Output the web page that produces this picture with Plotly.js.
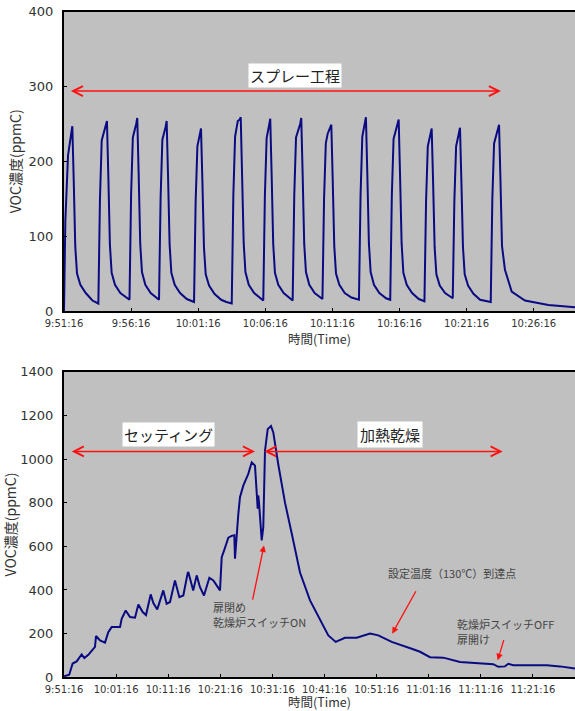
<!DOCTYPE html>
<html>
<head>
<meta charset="utf-8">
<script src="https://cdn.plot.ly/plotly-3.0.1.min.js"></script>
<style>html,body{margin:0;padding:0;background:#fff;}#chart{width:575px;height:711px;}</style>
</head>
<body>
<div id="chart"></div>
<script>
// ---- Top chart: spray process (minutes after 9:51:16) ----
const topTime = [
  0,0.1,0.3,0.45,0.62,0.72,0.84,0.97,1.22,1.62,2.12,
  2.56,2.68,2.81,3.12,3.20,3.30,3.42,3.55,3.80,4.20,4.70,
  4.88,5.00,5.13,5.38,5.46,5.56,5.68,5.81,6.06,6.46,6.96,
  7.08,7.20,7.33,7.57,7.65,7.75,7.87,8.00,8.25,8.65,9.15,
  9.69,9.81,9.94,10.13,10.21,10.31,10.43,10.56,10.81,11.21,11.71,12.1,
  12.50,12.62,12.75,12.95,13.10,13.17,13.27,13.39,13.52,13.77,14.17,14.67,
  14.85,14.97,15.10,15.29,15.37,15.47,15.59,15.72,15.97,16.37,16.87,
  17.04,17.16,17.29,17.60,17.68,17.78,17.90,18.03,18.28,18.68,19.18,
  19.26,19.38,19.51,19.65,19.92,20.02,20.14,20.27,20.52,20.92,21.42,
  21.98,22.10,22.23,22.42,22.50,22.60,22.72,22.85,23.10,23.50,24.00,
  24.31,24.43,24.56,24.86,24.94,25.04,25.16,25.29,25.54,25.94,26.44,
  26.86,26.98,27.11,27.32,27.40,27.50,27.62,27.75,28.00,28.40,28.90,
  28.97,29.09,29.22,29.43,29.51,29.61,29.73,29.86,30.11,30.51,31.01,
  31.80,31.92,32.05,32.34,32.42,32.52,32.64,32.86,33.36,34.35,36.1,38.08
];
const topVOC = [
  0,120,208,228,247,178,86,50,35,24,14,
  10,150,228,246,254,183,89,51,35,24,18,
  15,155,232,250,258,186,90,52,35,24,17,
  15,152,229,246,254,183,89,51,35,24,16,
  12,146,220,237,244,176,85,49,34,23,15,12,
  10,155,233,254,256,259,186,91,52,35,24,16,
  14,154,231,249,257,185,90,51,35,24,16,
  14,155,232,250,258,186,90,52,35,24,17,
  16,150,224,237,249,179,87,50,35,24,18,
  15,155,233,251,259,186,91,52,35,24,17,
  15,154,230,248,256,184,90,51,35,24,16,
  13,146,220,237,244,176,85,49,34,24,18,
  17,147,220,238,245,176,86,49,34,23,15,
  12,150,224,242,249,179,87,55,26,14,8,5
];
const topTickVals = [0,5,10,15,20,25,30,35];
const topTickText = ['9:51:16','9:56:16','10:01:16','10:06:16','10:11:16','10:16:16','10:21:16','10:26:16'];

// ---- Bottom chart: setting + heat drying (minutes after 9:51:16) ----
const botTime = [
  0,0.19,1.0,1.66,2.43,3.39,3.9,4.67,5.63,5.95,6.14,6.91,7.87,8.5,9.15,10.75,11.07,11.84,
  12.67,13.63,14.27,15.1,15.74,16.64,17.15,17.9,19.06,19.7,20.35,21.3,22.14,22.9,23.74,23.86,
  24.8,25.47,26.1,26.87,27.9,28.66,29.94,30.27,30.77,31.23,31.54,32.19,32.69,32.82,33.15,
  33.46,33.78,34.41,35.37,36.03,36.66,36.99,37.18,37.29,37.43,37.95,38.25,38.58,39.10,39.73,
  40.17,41.13,42.42,43.70,44.34,45.30,47.22,49.14,50.73,52.15,53.93,56.18,58.73,60.33,
  62.90,66.74,68.33,70.25,72.80,76.01,79.85,82.40,83.36,84.64,85.28,86.24,90.08,92.65,95.20,98.08
];
const botVOC = [
  5,6,12,63,73,105,88,103,127,139,189,169,159,207,230,230,268,306,
  276,273,334,299,285,380,340,311,398,337,345,444,367,375,477,482,
  398,467,413,375,456,444,398,550,584,614,640,648,651,543,665,
  749,825,878,932,985,970,825,772,833,800,627,688,1038,1137,1151,
  1122,975,800,660,589,480,352,261,192,162,181,181,200,192,
  162,131,117,92,90,70,66,60,48,50,62,55,55,55,50,40
];
const botTickVals = [0,10,20,30,40,50,60,70,80,90];
const botTickText = ['9:51:16','10:01:16','10:11:16','10:21:16','10:31:16','10:41:16','10:51:16','11:01:16','11:11:16','11:21:16'];

const lineColor = '#0a0a82';
const red = '#ff1010';
const jp = '"Noto Sans CJK JP", "Noto Sans", sans-serif';
const num = '"DejaVu Sans", sans-serif';

const traces = [
  {x: topTime, y: topVOC, type: 'scatter', mode: 'lines', xaxis: 'x', yaxis: 'y',
   line: {color: lineColor, width: 2}, hoverinfo: 'skip'},
  {x: botTime, y: botVOC, type: 'scatter', mode: 'lines', xaxis: 'x2', yaxis: 'y2',
   line: {color: lineColor, width: 2}, hoverinfo: 'skip'}
];

function xAx(range, vals, text, anchor) {
  return {
    range: range, domain: [0, 1], anchor: anchor,
    tickmode: 'array', tickvals: vals, ticktext: text,
    ticks: 'inside', ticklen: 3, tickcolor: '#000', tickwidth: 1,
    showline: true, linecolor: '#000', linewidth: 2, mirror: true,
    showgrid: false, zeroline: false,
    tickfont: {family: num, size: 10, color: '#333'},
    ticklabelstandoff: 2,
    title: {text: '時間(Time)', font: {family: jp, size: 12.5, color: '#333'}, standoff: 5}
  };
}
function yAx(range, dtick, domain, anchor) {
  return {
    range: range, domain: domain, anchor: anchor, dtick: dtick, tick0: 0,
    ticks: 'inside', ticklen: 3, tickcolor: '#000', tickwidth: 1,
    showline: true, linecolor: '#000', linewidth: 2, mirror: false,
    showgrid: false, zeroline: false,
    tickfont: {family: num, size: 13, color: '#333'},
    ticklabelstandoff: 6,
    title: {text: 'VOC濃度(ppmC)', font: {family: jp, size: 14, color: '#333'}, standoff: 4}
  };
}

const arrowBase = {showarrow: true, text: '', arrowcolor: red, arrowwidth: 1.5};
const noteFont = {family: jp, size: 11, color: '#444'};
function note(x, y, text) {
  return {xref: 'x2', yref: 'y2', x: x, y: y, xanchor: 'left', showarrow: false, text: text, font: noteFont};
}

const layout = {
  width: 575, height: 711,
  margin: {l: 64, r: 0, t: 0, b: 0},
  paper_bgcolor: '#ffffff', plot_bgcolor: '#c0c0c0',
  showlegend: false,
  font: {family: jp, color: '#333'},
  xaxis: xAx([0, 38.08], topTickVals, topTickText, 'y'),
  yaxis: yAx([0, 400], 100, [0.5626, 0.9835], 'x'),
  xaxis2: xAx([0, 98.08], botTickVals, botTickText, 'y2'),
  yaxis2: yAx([0, 1400], 200, [0.0474, 0.4772], 'x2'),
  annotations: [
    // top double arrow
    Object.assign({}, arrowBase, {xref: 'x', yref: 'y', axref: 'x', ayref: 'y',
      x: 32.56, y: 294, ax: 0.4, ay: 294, arrowhead: 5, startarrowhead: 5, arrowside: 'end+start', arrowsize: 1.3}),
    {xref: 'x', yref: 'y', x: 17.25, y: 315, text: 'スプレー工程', showarrow: false,
     bgcolor: '#ffffff', borderpad: 1, font: {family: jp, size: 15, color: '#222'}},
    // bottom double arrows
    Object.assign({}, arrowBase, {xref: 'x2', yref: 'y2', axref: 'x2', ayref: 'y2',
      x: 36.66, y: 1035, ax: 1.2, ay: 1035, arrowhead: 5, startarrowhead: 5, arrowside: 'end+start', arrowsize: 1.3}),
    Object.assign({}, arrowBase, {xref: 'x2', yref: 'y2', axref: 'x2', ayref: 'y2',
      x: 84.2, y: 1035, ax: 38.14, ay: 1035, arrowhead: 5, startarrowhead: 5, arrowside: 'end+start', arrowsize: 1.3}),
    {xref: 'x2', yref: 'y2', x: 20.0, y: 1112, text: 'セッティング', showarrow: false,
     bgcolor: '#ffffff', borderpad: 1, font: {family: jp, size: 15, color: '#222'}},
    {xref: 'x2', yref: 'y2', x: 62.5, y: 1113, text: '加熱乾燥', showarrow: false,
     bgcolor: '#ffffff', borderpad: 2, font: {family: jp, size: 15, color: '#222'}},
    // pointer: door closed
    Object.assign({}, arrowBase, {xref: 'x2', yref: 'y2', axref: 'x2', ayref: 'y2',
      x: 38.39, y: 604, ax: 36.14, ay: 349, arrowhead: 2, arrowsize: 1, arrowwidth: 1.3}),
    note(28.16, 322, '扉閉め'),
    note(28.16, 252, '乾燥炉スイッチON'),
    // pointer: set temperature reached
    Object.assign({}, arrowBase, {xref: 'x2', yref: 'y2', axref: 'x2', ayref: 'y2',
      x: 63.0, y: 200, ax: 67.7, ay: 401, arrowhead: 2, arrowsize: 1, arrowwidth: 1.3}),
    note(61.8, 476, '設定温度（130℃）到達点'),
    // pointer: switch off
    Object.assign({}, arrowBase, {xref: 'x2', yref: 'y2', axref: 'x2', ayref: 'y2',
      x: 83.24, y: 78, ax: 84.5, ay: 177, arrowhead: 2, arrowsize: 1, arrowwidth: 1.3}),
    note(75.05, 244, '乾燥炉スイッチOFF'),
    note(75.05, 174, '扉開け')
  ]
};

Plotly.newPlot('chart', traces, layout, {staticPlot: true, displayModeBar: false});
</script>
</body>
</html>
